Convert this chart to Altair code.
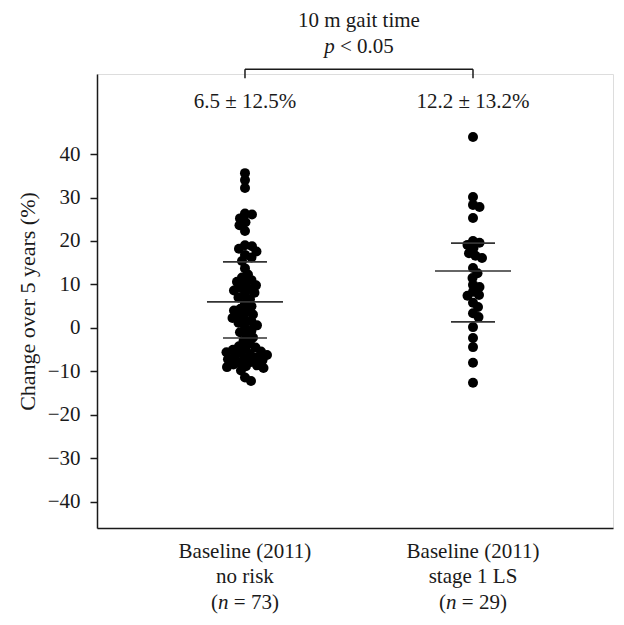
import altair as alt
import pandas as pd
import numpy as np

# ---------------- data ----------------
group_centers = [1, 2]
no_risk = [35.6, 34.0, 32.2,
           26.3, 26.1, 25.2, 24.3, 23.6, 22.3,
           19.0, 18.8, 18.2, 17.6, 16.8, 16.2, 15.4,
           13.7, 12.3, 11.6, 11.0, 10.6, 10.3, 9.8, 9.2, 8.9, 8.6, 8.1, 7.6, 7.0, 6.6,
           5.6, 5.0, 4.4, 4.0, 3.6, 3.1, 2.9, 2.3, 1.8, 1.5, 1.2, 0.6, 0.0, -0.6, -1.0, -1.6, -2.2,
           -3.0, -3.6, -4.2, -4.5, -4.8, -5.0, -5.4, -5.6, -5.8, -6.0, -6.2, -6.6, -6.8, -7.0,
           -7.2, -7.4, -7.8, -8.0, -8.4, -8.6, -8.8, -9.0, -9.2, -9.8,
           -11.4, -12.2]
stage1_ls = [43.9, 30.1, 28.3, 27.8, 25.3,
             20.0, 19.6, 19.1, 18.4, 17.2, 16.6, 16.1,
             12.6, 11.5, 9.9, 9.4, 8.3, 7.6, 7.4, 5.8,
             4.8, 3.4, 2.5, 0.2, -2.3, -4.4, -8.0, -12.6, 13.8]
mean_line = [6.0, 13.1]
upper_line = [15.2, 19.5]
lower_line = [-2.3, 1.4]
summary_text = ["6.5 ± 12.5%", "12.2 ± 13.2%"]
label_line1 = ["Baseline (2011)", "Baseline (2011)"]
label_line2 = ["no risk", "stage 1 LS"]
n_text = ["= 73)", "= 29)"]
title_line1 = "10 m gait time"
title_line2 = "< 0.05"
y_ticks = [-40, -30, -20, -10, 0, 10, 20, 30, 40]

# ---------------- layout ----------------
W, H = 516, 454
X_DOMAIN = [0.351, 2.614]
Y_DOMAIN = [-46.0, 58.4]
PX_X = W / (X_DOMAIN[1] - X_DOMAIN[0])
PX_Y = H / (Y_DOMAIN[1] - Y_DOMAIN[0])
FONT = "Liberation Serif"
FS = 21
INK = "#1a1a1a"


def swarm(values, min_dist=6.6, step=0.5):
    """Simple beeswarm: horizontal pixel offsets so that dots do not overlap too much."""
    placed = []
    offsets = [0.0] * len(values)
    order = sorted(range(len(values)), key=lambda i: -values[i])
    for i in order:
        py = values[i] * PX_Y
        chosen = None
        k = 0
        while chosen is None:
            cands = [0.0] if k == 0 else [k * step, -k * step]
            for c in cands:
                if all((c - px) ** 2 + (py - qy) ** 2 >= min_dist ** 2 for px, qy in placed):
                    chosen = c
                    break
            k += 1
        placed.append((chosen, py))
        offsets[i] = chosen
    return offsets


rows = []
for center, vals in zip(group_centers, [no_risk, stage1_ls]):
    offs = swarm(vals)
    for v, o in zip(vals, offs):
        rows.append({"x": center + o / PX_X, "y": v})
points_df = pd.DataFrame(rows)

mean_half = 38 / PX_X
sd_half = 22 / PX_X
lines_df = pd.DataFrame(
    [{"x": c - mean_half, "x2": c + mean_half, "y": m} for c, m in zip(group_centers, mean_line)]
    + [{"x": c - sd_half, "x2": c + sd_half, "y": u} for c, u in zip(group_centers, upper_line)]
    + [{"x": c - sd_half, "x2": c + sd_half, "y": l} for c, l in zip(group_centers, lower_line)]
)

xs = alt.Scale(domain=X_DOMAIN, nice=False, zero=False)
ys = alt.Scale(domain=Y_DOMAIN, nice=False, zero=False)

X = lambda f="x": alt.X(f"{f}:Q", scale=xs, axis=alt.Axis(labels=False, ticks=False, grid=False,
                                                           title=None, domainColor=INK, domainWidth=1.5))
Y = lambda f="y": alt.Y(f"{f}:Q", scale=ys,
                        axis=alt.Axis(values=y_ticks, grid=False, title="Change over 5 years (%)",
                                      tickSize=7, tickColor=INK, tickWidth=1.5,
                                      domainColor=INK, domainWidth=1.5,
                                      labelFont=FONT, labelFontSize=FS, labelColor=INK, labelPadding=10,
                                      titleFont=FONT, titleFontSize=22, titleFontWeight="normal",
                                      titleColor=INK, titlePadding=8))

pts = alt.Chart(points_df).mark_circle(size=100, color="black", opacity=1).encode(x=X(), y=Y())

lines = alt.Chart(lines_df).mark_rule(color="#333333", strokeWidth=1.6).encode(
    x=X(), x2="x2:Q", y=alt.Y("y:Q", scale=ys))

summary_df = pd.DataFrame({"x": group_centers, "y": [52.0, 52.0], "t": summary_text})
summary = alt.Chart(summary_df).mark_text(font=FONT, fontSize=FS, color=INK, baseline="middle").encode(
    x=alt.X("x:Q", scale=xs), y=alt.Y("y:Q", scale=ys), text="t:N")

# bracket
br_h = pd.DataFrame({"x": [group_centers[0]], "x2": [group_centers[1]], "y": [59.5]})
bracket_h = alt.Chart(br_h).mark_rule(color=INK, strokeWidth=1.5).encode(
    x=alt.X("x:Q", scale=xs), x2="x2:Q", y=alt.Y("y:Q", scale=ys))
br_v = pd.DataFrame({"x": group_centers, "y": [57.4, 57.4], "y2": [59.5, 59.5]})
bracket_v = alt.Chart(br_v).mark_rule(color=INK, strokeWidth=1.5).encode(
    x=alt.X("x:Q", scale=xs), y=alt.Y("y:Q", scale=ys), y2="y2:Q")

mid = (group_centers[0] + group_centers[1]) / 2
t1_df = pd.DataFrame({"x": [mid], "y": [70.5], "t": [title_line1]})
t1 = alt.Chart(t1_df).mark_text(font=FONT, fontSize=FS, color=INK, baseline="middle").encode(
    x=alt.X("x:Q", scale=xs), y=alt.Y("y:Q", scale=ys), text="t:N")
t2_df = pd.DataFrame({"x": [mid], "y": [64.6], "p": ["p"], "t": [title_line2]})
t2p = alt.Chart(t2_df).mark_text(font=FONT, fontSize=FS, color=INK, baseline="middle", align="left",
                                 fontStyle="italic", dx=-34.8).encode(
    x=alt.X("x:Q", scale=xs), y=alt.Y("y:Q", scale=ys), text="p:N")
t2r = alt.Chart(t2_df).mark_text(font=FONT, fontSize=FS, color=INK, baseline="middle", align="left",
                                 dx=-19.0).encode(
    x=alt.X("x:Q", scale=xs), y=alt.Y("y:Q", scale=ys), text="t:N")

cat_df = pd.DataFrame({"x": group_centers, "l1": label_line1, "l2": label_line2, "n": n_text,
                       "y1": [-51.5, -51.5], "y2": [-57.2, -57.2], "y3": [-63.2, -63.2],
                       "open": ["(", "("], "ni": ["n", "n"]})
cl1 = alt.Chart(cat_df).mark_text(font=FONT, fontSize=FS, color=INK, baseline="middle").encode(
    x=alt.X("x:Q", scale=xs), y=alt.Y("y1:Q", scale=ys), text="l1:N")
cl2 = alt.Chart(cat_df).mark_text(font=FONT, fontSize=FS, color=INK, baseline="middle").encode(
    x=alt.X("x:Q", scale=xs), y=alt.Y("y2:Q", scale=ys), text="l2:N")
cl3a = alt.Chart(cat_df).mark_text(font=FONT, fontSize=FS, color=INK, baseline="middle", align="left",
                                   dx=-33.9).encode(
    x=alt.X("x:Q", scale=xs), y=alt.Y("y3:Q", scale=ys), text="open:N")
cl3b = alt.Chart(cat_df).mark_text(font=FONT, fontSize=FS, color=INK, baseline="middle", align="left",
                                   fontStyle="italic", dx=-26.9).encode(
    x=alt.X("x:Q", scale=xs), y=alt.Y("y3:Q", scale=ys), text="ni:N")
cl3c = alt.Chart(cat_df).mark_text(font=FONT, fontSize=FS, color=INK, baseline="middle", align="left",
                                   dx=-11.2).encode(
    x=alt.X("x:Q", scale=xs), y=alt.Y("y3:Q", scale=ys), text="n:N")

chart = alt.layer(pts, lines, summary, bracket_h, bracket_v, t1, t2p, t2r,
                  cl1, cl2, cl3a, cl3b, cl3c).properties(
    width=W, height=H,
    autosize=alt.AutoSizeParams(type="none"),
    padding={"left": 89, "top": 66, "right": 3, "bottom": 89},
).configure_view(stroke=None).configure(background="white")

chart.save("out.html", embed_options={"renderer": "svg", "actions": False})
